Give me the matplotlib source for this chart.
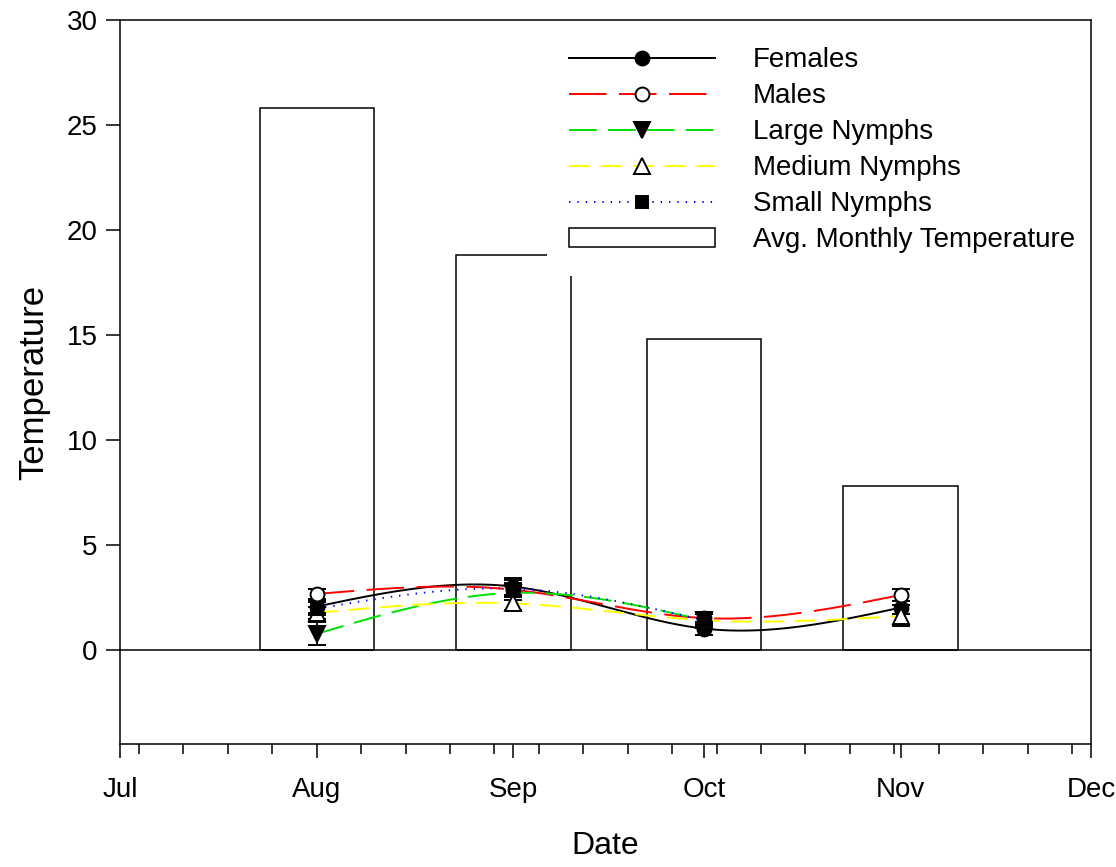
import numpy as np
import datetime as dt
import matplotlib
matplotlib.use("Agg")
import matplotlib.pyplot as plt
import matplotlib.dates as mdates
from matplotlib.lines import Line2D
from matplotlib.patches import Patch

plt.rcParams['font.family'] = ['Liberation Sans', 'DejaVu Sans']
plt.rcParams['lines.scale_dashes'] = False

# 数据
months = [dt.date(2004, 8, 1), dt.date(2004, 9, 1), dt.date(2004, 10, 1), dt.date(2004, 11, 1)]
avg_temp = [25.8, 18.8, 14.8, 7.8]

females = [2.05, 3.0, 1.0, 2.0]
females_err = [0.3, 0.4, 0.3, 0.3]
males = [2.65, 2.85, 1.5, 2.6]
males_err = [0.25, 0.3, 0.3, 0.3]
large_nymphs = [0.75, 2.7, 1.4]
large_err = [0.55, 0.35, 0.3]
medium_nymphs = [1.75, 2.2, 1.4, 1.6]
medium_err = [0.3, 0.3, 0.3, 0.5]
small_nymphs = [1.95, 2.9, 1.4]
small_err = [0.3, 0.4, 0.3]

x_all = mdates.date2num(months)


def natural_spline(x, y, n=300):
    '''自然三次样条, 只用于画平滑曲线'''
    x = np.asarray(x, float)
    y = np.asarray(y, float)
    m = len(x)
    h = np.diff(x)
    A = np.zeros((m, m))
    b = np.zeros(m)
    A[0, 0] = 1
    A[-1, -1] = 1
    for i in range(1, m - 1):
        A[i, i - 1] = h[i - 1]
        A[i, i] = 2 * (h[i - 1] + h[i])
        A[i, i + 1] = h[i]
        b[i] = 6 * ((y[i + 1] - y[i]) / h[i] - (y[i] - y[i - 1]) / h[i - 1])
    M = np.linalg.solve(A, b)
    xs = np.linspace(x[0], x[-1], n)
    idx = np.clip(np.searchsorted(x, xs) - 1, 0, m - 2)
    x0 = x[idx]
    x1 = x[idx + 1]
    hh = x1 - x0
    t0 = xs - x0
    t1 = x1 - xs
    ys = (M[idx] * t1 ** 3 / (6 * hh) + M[idx + 1] * t0 ** 3 / (6 * hh)
          + (y[idx] / hh - M[idx] * hh / 6) * t1
          + (y[idx + 1] / hh - M[idx + 1] * hh / 6) * t0)
    return xs, ys


fig = plt.figure(figsize=(11.16, 8.67), dpi=100)
ax = fig.add_axes([120 / 1116, 1 - 744 / 867, 971 / 1116, 724 / 867])

# 柱子
ax.bar(x_all, avg_temp, width=18, color='white', edgecolor='black', linewidth=1.1, zorder=1)
ax.axhline(0, color='black', linewidth=1.1, zorder=2)

series = [
    (females, females_err, 'black', '-', 'o', 'black', 10, 'Females'),
    (males, males_err, '#ff0000', (0, (27, 9)), 'o', 'white', 10, 'Males'),
    (large_nymphs, large_err, '#00e000', (0, (20, 8)), 'v', 'black', 11, 'Large Nymphs'),
    (medium_nymphs, medium_err, '#ffff00', (0, (15, 8)), '^', 'white', 11, 'Medium Nymphs'),
    (small_nymphs, small_err, '#0000ff', (0, (1, 5)), 's', 'black', 9, 'Small Nymphs'),
]

handles = []
for vals, err, col, ls, mk, mfc, ms, lab in series:
    xx = x_all[:len(vals)]
    xs, ys = natural_spline(xx, vals)
    ax.plot(xs, ys, color=col, linestyle=ls, linewidth=1.4, zorder=3)
    ax.errorbar(xx, vals, yerr=err, fmt=mk, ms=ms, mfc=mfc, mec='black', mew=1.4,
                ecolor='black', elinewidth=1.4, capsize=6.5, capthick=1.8, zorder=4)
    handles.append(Line2D([], [], color=col, linestyle=ls, linewidth=1.4, marker=mk,
                          ms=ms, mfc=mfc, mec='black', mew=1.4, label=lab))
handles.append(Patch(facecolor='white', edgecolor='black', linewidth=1.1,
                     label='Avg. Monthly Temperature'))

# 坐标轴
ax.set_xlim(mdates.date2num(dt.date(2004, 7, 1)), mdates.date2num(dt.date(2004, 12, 1)))
ax.set_ylim(-4.5, 30)
ax.set_yticks(np.arange(0, 31, 5))
ax.xaxis.set_major_locator(mdates.MonthLocator())
ax.xaxis.set_major_formatter(mdates.DateFormatter('%b'))
ax.xaxis.set_minor_locator(mdates.WeekdayLocator(byweekday=mdates.SU))
ax.tick_params(axis='both', which='major', direction='out', length=10, width=1.1,
               labelsize=20, pad=6)
ax.tick_params(axis='x', which='major', pad=14)
ax.tick_params(axis='x', which='minor', direction='out', length=7, width=1.1)
for s in ax.spines.values():
    s.set_linewidth(1.1)
    s.set_zorder(6)

ax.set_xlabel('Date', fontsize=23, labelpad=20)
ax.set_ylabel('Temperature', fontsize=25, labelpad=12)

# 图例, 白底无边框, 盖住柱子但不盖坐标框
leg = ax.legend(handles=handles, loc='upper left', bbox_to_anchor=(0.4397, 0.993),
                borderaxespad=0, borderpad=0.8, fontsize=20, handlelength=5.25,
                handletextpad=1.37, labelspacing=0.36, numpoints=1, frameon=True,
                fancybox=False, framealpha=1, facecolor='white', edgecolor='none')
leg.set_zorder(5)

plt.savefig('out.png', dpi=100)
